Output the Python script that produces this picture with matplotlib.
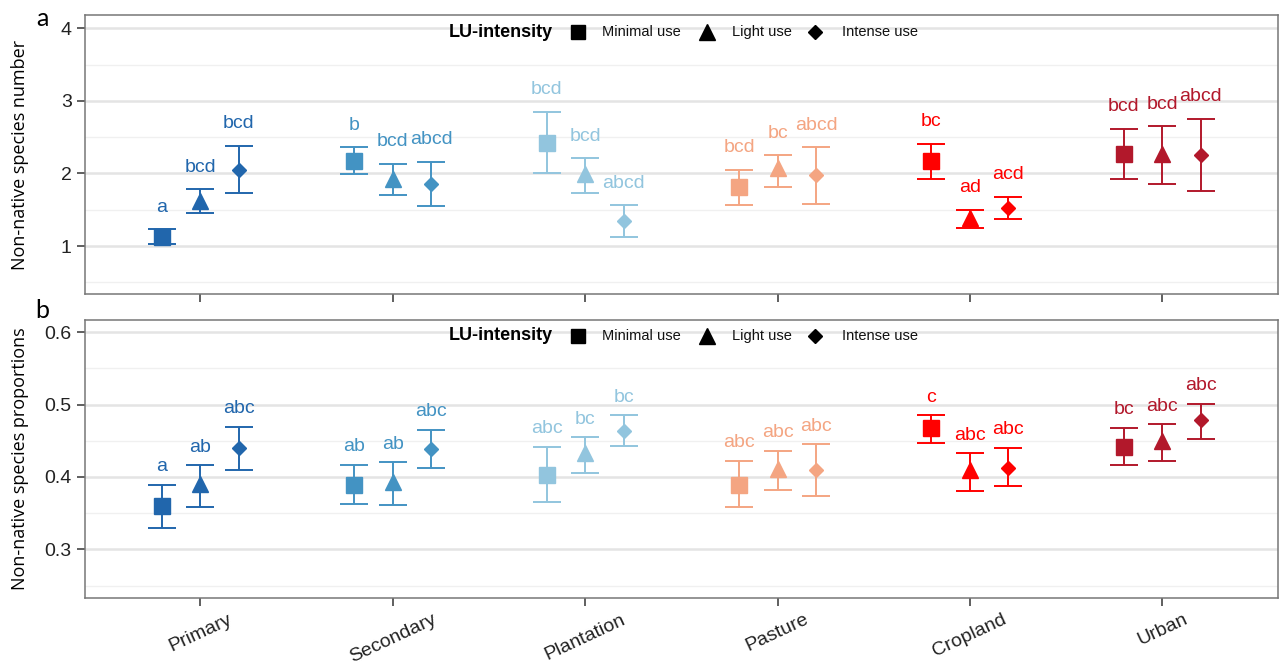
import matplotlib
matplotlib.use("Agg")
import matplotlib.pyplot as plt
from matplotlib.ticker import MultipleLocator, FormatStrFormatter

land_use = ["Primary", "Secondary", "Plantation", "Pasture", "Cropland", "Urban"]
intensity = ["Minimal use", "Light use", "Intense use"]
lu_colors = ["#2166AC", "#4393C3", "#92C5DE", "#F4A582", "#FF0000", "#B2182B"]

# panel a: species number (rows = land use, cols = minimal/light/intense)
num_mean = [[1.13, 1.62, 2.05],
            [2.17, 1.93, 1.85],
            [2.42, 1.99, 1.34],
            [1.81, 2.07, 1.98],
            [2.17, 1.38, 1.53],
            [2.27, 2.27, 2.25]]
num_lo = [[1.03, 1.46, 1.73],
          [1.99, 1.71, 1.55],
          [2.00, 1.73, 1.12],
          [1.57, 1.81, 1.58],
          [1.93, 1.25, 1.37],
          [1.93, 1.85, 1.76]]
num_hi = [[1.23, 1.78, 2.38],
          [2.36, 2.13, 2.16],
          [2.85, 2.21, 1.56],
          [2.05, 2.25, 2.36],
          [2.41, 1.50, 1.68],
          [2.61, 2.65, 2.75]]
num_letters = [["a", "bcd", "bcd"],
               ["b", "bcd", "abcd"],
               ["bcd", "bcd", "abcd"],
               ["bcd", "bc", "abcd"],
               ["bc", "ad", "acd"],
               ["bcd", "bcd", "abcd"]]

# panel b: species proportions
prop_mean = [[0.360, 0.390, 0.440],
             [0.389, 0.393, 0.438],
             [0.403, 0.433, 0.463],
             [0.389, 0.411, 0.409],
             [0.467, 0.409, 0.413],
             [0.442, 0.449, 0.478]]
prop_lo = [[0.330, 0.358, 0.410],
           [0.363, 0.361, 0.412],
           [0.365, 0.406, 0.443],
           [0.358, 0.382, 0.373],
           [0.447, 0.380, 0.387],
           [0.417, 0.422, 0.453]]
prop_hi = [[0.389, 0.416, 0.469],
           [0.417, 0.420, 0.465],
           [0.442, 0.455, 0.485],
           [0.422, 0.436, 0.445],
           [0.485, 0.433, 0.440],
           [0.468, 0.473, 0.501]]
prop_letters = [["a", "ab", "abc"],
                ["ab", "ab", "abc"],
                ["abc", "bc", "bc"],
                ["abc", "abc", "abc"],
                ["c", "abc", "abc"],
                ["bc", "abc", "abc"]]

markers = ["s", "^", "D"]
msizes = [11, 12, 7.5]
dodge = [-0.2, 0.0, 0.2]
FONT = ["Liberation Sans", "DejaVu Sans"]

# legend layout (axes fractions)
leg_title_x = 0.392
leg_marker_x = [0.4132, 0.5214, 0.6119]
leg_text_x = [0.4334, 0.5423, 0.6345]
leg_ms = [9.5, 12, 7]


def draw_panel(ax, mean, lo, hi, letters, ylim, major, minor, ylabel,
               lab_off, leg_y):
    for i in range(len(land_use)):
        for j in range(len(intensity)):
            x = i + dodge[j]
            m = mean[i][j]
            err = [[m - lo[i][j]], [hi[i][j] - m]]
            ax.errorbar(x, m, yerr=err, fmt=markers[j], ms=msizes[j],
                        color=lu_colors[i], ecolor=lu_colors[i], elinewidth=1.4,
                        capsize=10, capthick=1.4, zorder=3)
            ax.annotate(letters[i][j], (x, hi[i][j]), xytext=(0, lab_off),
                        textcoords="offset points", ha="center", va="center",
                        fontsize=14, color=lu_colors[i], family=FONT)
    ax.set_xlim(-0.6, len(land_use) - 0.4)
    ax.set_ylim(*ylim)
    ax.yaxis.set_major_locator(MultipleLocator(major))
    ax.yaxis.set_minor_locator(MultipleLocator(minor))
    ax.set_xticks(range(len(land_use)))
    ax.grid(which="major", axis="y", color="#E4E4E4", lw=1.8, zorder=0)
    ax.grid(which="minor", axis="y", color="#F0F0F0", lw=1.0, zorder=0)
    ax.tick_params(axis="y", which="minor", length=0)
    ax.tick_params(which="major", length=6, color="#444444", width=1.2,
                   labelsize=14, labelcolor="#222222")
    for s in ax.spines.values():
        s.set_color("#777777")
        s.set_linewidth(1.1)
    ax.set_ylabel(ylabel, fontsize=13, family=["Open Sans", "DejaVu Sans"])
    ax.yaxis.set_label_coords(-0.047, 0.5)

    # legend drawn by hand: bold title on the left, three black keys
    ax.text(leg_title_x, leg_y, "LU-intensity", transform=ax.transAxes,
            ha="right", va="center", fontsize=13, fontweight="bold",
            family=FONT, zorder=6)
    for k in range(3):
        ax.plot([leg_marker_x[k]], [leg_y], marker=markers[k], ls="",
                color="black", ms=leg_ms[k], transform=ax.transAxes,
                clip_on=False, zorder=6)
        ax.text(leg_text_x[k], leg_y, intensity[k], transform=ax.transAxes,
                ha="left", va="center", fontsize=10.5, family=FONT,
                color="#111111", zorder=6)


fig = plt.figure(figsize=(12.79, 6.65), dpi=100)
ax1 = fig.add_axes([0.0665, 0.558, 0.9325, 0.419])
ax2 = fig.add_axes([0.0665, 0.101, 0.9325, 0.418])

draw_panel(ax1, num_mean, num_lo, num_hi, num_letters, (0.34, 4.18), 1, 0.5,
           "Non-native species number", 16, 0.939)
draw_panel(ax2, prop_mean, prop_lo, prop_hi, prop_letters, (0.233, 0.617),
           0.1, 0.05, "Non-native species proportions", 13, 0.942)

ax1.set_xticklabels([])
ax2.set_xticklabels(land_use, rotation=25, fontsize=14, family=FONT,
                    color="#222222")
ax1.yaxis.set_major_formatter(FormatStrFormatter("%d"))
ax2.yaxis.set_major_formatter(FormatStrFormatter("%.1f"))
for ax in (ax1, ax2):
    for lab in ax.get_yticklabels():
        lab.set_family(FONT)

fig.text(0.033, 0.972, "a", fontsize=18, family=["Lato", "DejaVu Sans"],
         va="center", ha="center")
fig.text(0.033, 0.533, "b", fontsize=18, family=["Lato", "DejaVu Sans"],
         va="center", ha="center")

fig.savefig("out.png", dpi=100)
